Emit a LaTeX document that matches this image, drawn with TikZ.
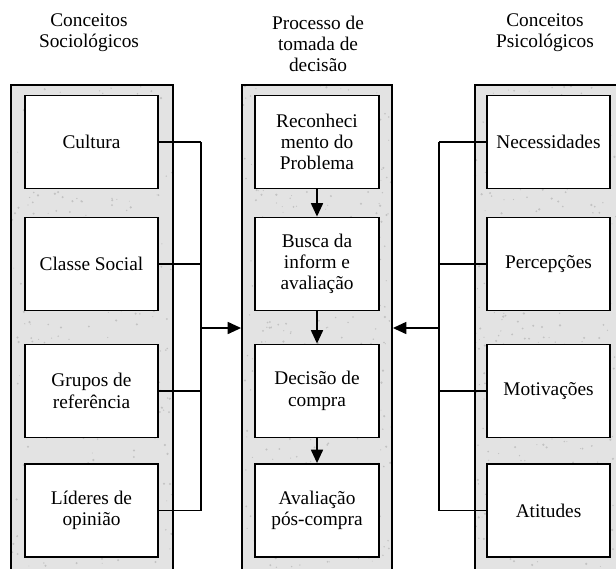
\documentclass[tikz,border=0pt]{standalone}
\usepackage{fontspec}
\setmainfont{Liberation Serif}
\usetikzlibrary{arrows.meta}

\begin{document}
\begin{tikzpicture}[x=0.75pt, y=-0.75pt,
  every node/.style={font=\fontsize{14.5}{16}\selectfont, inner sep=0pt},
  panel/.style={fill=black!11, outer sep=0pt, minimum height=371.25pt},
  frame/.style={line width=1.4pt},
  cbox/.style={draw=black, line width=1.4pt, fill=white, align=center, minimum height=69.75pt},
  lbox/.style={cbox, minimum width=99.75pt},
  mbox/.style={cbox, minimum width=93pt},
  rbox/.style={cbox, minimum width=92.25pt},
  title/.style={align=center},
  wire/.style={line width=1.1pt},
  arr/.style={wire, -{Triangle[length=10pt, width=9pt]}},
  speck/.style={fill=black!24}
]
\useasboundingbox (0,0) rectangle (616,568);

% column headings
\node[title] (tl) at (89,33) {Conceitos\\Sociológicos};
\node[title] (tm) at (318,44) {Processo de\\tomada de\\decisão};
\node[title] (tr) at (545,33) {Conceitos\\Psicológicos};

% shaded column panels
\node[panel, minimum width=121.5pt] (lp) at (92,332.5) {};
\node[panel, minimum width=112.5pt] (mp) at (317,332.5) {};
\node[panel, minimum width=111pt] (rp) at (549,332.5) {};

% marbled speckle on the panels
\pgfmathsetseed{4217}
\foreach \xa/\xb in {12/172, 243/391, 475/616} {
  \foreach \k in {1,...,420} {
    \pgfmathsetmacro{\px}{\xa + rnd*(\xb-\xa)}
    \pgfmathsetmacro{\py}{86 + rnd*482}
    \pgfmathsetmacro{\pr}{0.35 + 0.6*rnd}
    \fill[speck] (\px,\py) circle[radius=\pr pt];
  }
}
% panel borders on top of the speckle
\draw[frame] (lp.south west) rectangle (lp.north east);
\draw[frame] (mp.south west) rectangle (mp.north east);
\draw[frame] (rp.south west) rectangle (rp.north east);

% sociological concepts
\node[lbox] (cul) at (91.5,142)   {Cultura};
\node[lbox] (cls) at (91.5,264)   {Classe Social};
\node[lbox] (grp) at (91.5,391)   {Grupos de\\referência};
\node[lbox] (lid) at (91.5,510.5) {Líderes de\\opinião};

% decision process
\node[mbox] (rec) at (317,142)   {Reconheci\\mento do\\Problema};
\node[mbox] (bus) at (317,264)   {Busca da\\inform e\\avaliação};
\node[mbox] (dec) at (317,391)   {Decisão de\\compra};
\node[mbox] (ava) at (317,510.5) {Avaliação\\pós-compra};

% psychological concepts
\node[rbox] (nec) at (548.5,142)   {Necessidades};
\node[rbox] (per) at (548.5,264)   {Percepções};
\node[rbox] (mot) at (548.5,391)   {Motivações};
\node[rbox] (att) at (548.5,510.5) {Atitudes};

% collecting buses
\coordinate (lt) at (201,142);
\coordinate (lb) at (201,510.5);
\coordinate (la) at (201,328);
\coordinate (rt) at (439,142);
\coordinate (rb) at (439,510.5);
\coordinate (ra) at (439,328);

\draw[wire] (lt) -- (lb);
\foreach \n in {cul,cls,grp,lid} \draw[wire] (\n.east) -- (\n.east -| lt);
\draw[wire] (rt) -- (rb);
\foreach \n in {nec,per,mot,att} \draw[wire] (\n.west) -- (\n.west -| rt);

\draw[arr] (la) -- ([xshift=-0.7pt]la -| mp.west);
\draw[arr] (ra) -- ([xshift=0.7pt]ra -| mp.east);

% process flow
\draw[arr] (rec.south) -- (bus.north);
\draw[arr] (bus.south) -- (dec.north);
\draw[arr] (dec.south) -- (ava.north);
\end{tikzpicture}
\end{document}
